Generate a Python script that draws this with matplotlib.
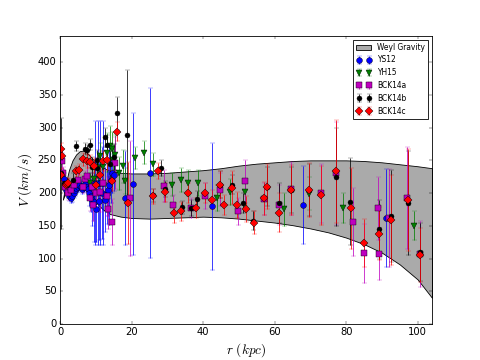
import matplotlib
matplotlib.use("Agg")
import matplotlib.pyplot as plt
import numpy as np

# Weyl gravity band
band_r = [0.8, 1.5, 2.5, 3.5, 4.5, 5.5, 6.5, 7.5, 8.5, 10, 12, 14, 17, 20, 25, 30, 35,
          40, 45, 50, 55, 60, 65, 70, 75, 80, 85, 90, 95, 100, 104]
band_hi = [190, 212, 235, 250, 259, 264, 265, 262, 256, 247, 239, 234, 231, 230, 230, 231, 233,
           235, 238, 242, 245, 247, 249, 250, 250, 250, 249, 247, 244, 241, 238]
band_lo = [190, 200, 210, 216, 218, 217, 213, 205, 197, 186, 175, 168, 164, 162, 161, 162, 163,
           164, 163, 161, 158, 155, 151, 146, 140, 132, 122, 109, 91, 68, 40]

# YS12
ys12_r = [0.6, 1.0, 1.4, 1.8, 2.2, 2.6, 3.0, 3.4, 3.8, 4.2, 4.6, 5.0, 5.4, 5.8, 6.2, 6.6,
          7.0, 7.4, 7.8, 8.2, 8.6, 9.0, 9.4, 9.8, 10.2, 10.7, 11.0, 11.2, 11.8, 12.1, 12.6,
          13.0, 13.4, 13.8, 14.2, 14.6, 15.0, 18.2, 20.3, 25.2, 42.4, 67.8, 91.2]
ys12_v = [228, 222, 212, 205, 200, 196, 193, 195, 200, 204, 208, 210, 212, 210, 207, 210,
          214, 210, 206, 200, 196, 190, 186, 215, 176, 215, 188, 215, 200, 215, 190,
          198, 205, 212, 220, 230, 228, 192, 214, 231, 180, 182, 162]
ys12_e = [8, 8, 8, 8, 8, 8, 8, 8, 8, 8, 8, 8, 8, 8, 8, 8,
          8, 8, 10, 20, 25, 40, 60, 95, 50, 95, 60, 95, 70, 95, 50,
          45, 40, 60, 35, 30, 25, 72, 108, 130, 97, 60, 75]

# YH15
yh15_r = [8.5, 9.5, 10.5, 11.2, 12.0, 13.0, 14.0, 14.5, 14.9, 15.5, 16.5, 17.7, 18.2, 21.0,
          23.5, 26.1, 31.2, 33.8, 35.9, 38.7, 43.8, 47.4, 51.6, 62.7, 69.5, 79.2, 99.0]
yh15_v = [215, 222, 238, 256, 240, 262, 272, 268, 250, 258, 230, 241, 218, 254,
          262, 244, 213, 220, 215, 215, 192, 202, 201, 175, 199, 177, 150]
yh15_e = [15, 20, 25, 20, 25, 30, 30, 25, 25, 30, 25, 25, 20, 17,
          18, 18, 18, 18, 20, 20, 20, 20, 20, 25, 25, 23, 22]

# BCK14a
bck14a_r = [0.5, 0.8, 1.5, 2.3, 3.0, 4.0, 5.0, 6.3, 7.0, 7.5, 8.4, 8.9, 9.3, 10.0, 11.2,
            12.0, 13.0, 13.5, 14.5, 15.4, 19.6, 29.1, 31.7, 36.6, 40.4, 44.6, 49.9, 51.7,
            56.9, 61.1, 64.6, 72.9, 77.1, 81.8, 85.1, 89.0, 89.3, 92.0, 97.0, 100.7]
bck14a_v = [249, 230, 210, 200, 205, 212, 220, 210, 222, 226, 192, 210, 182, 200, 201,
            215, 195, 175, 156, 246, 192, 211, 182, 177, 195, 205, 172, 218,
            191, 182, 207, 200, 230, 156, 108, 177, 107, 162, 192, 107]
bck14a_e = [12, 10, 10, 10, 10, 10, 10, 10, 12, 15, 20, 20, 25, 25, 30,
            30, 30, 30, 35, 40, 88, 25, 15, 15, 20, 25, 20, 33,
            25, 30, 40, 45, 78, 52, 45, 48, 40, 75, 78, 50]

# BCK14b
bck14b_r = [0.3, 1.0, 2.0, 3.5, 4.5, 6.9, 7.6, 8.4, 9.0, 10.3, 10.4, 12.6, 13.2, 14.0,
            15.0, 16.0, 18.6, 26.1, 28.2, 29.4, 34.0, 36.6, 38.2, 44.6, 48.0, 51.3, 54.0,
            58.0, 61.1, 64.6, 69.5, 77.1, 81.1, 89.3, 92.5, 97.4, 100.7]
bck14b_v = [230, 215, 212, 220, 272, 268, 266, 274, 240, 238, 251, 285, 273, 245,
            255, 322, 288, 197, 238, 206, 178, 177, 191, 213, 213, 185, 158,
            210, 185, 205, 205, 224, 187, 145, 165, 185, 110]
bck14b_e = [85, 10, 10, 10, 8, 8, 8, 8, 15, 15, 15, 15, 15, 20,
            20, 25, 100, 10, 12, 12, 10, 12, 12, 20, 15, 15, 15,
            30, 30, 35, 40, 75, 67, 45, 70, 80, 45]

# BCK14c
bck14c_r = [0.3, 0.5, 0.4, 1.6, 2.0, 2.3, 4.5, 5.3, 6.3, 7.5, 8.4, 9.5, 10.1, 11.2, 12.1,
            13.0, 14.5, 16.0, 19.1, 26.1, 27.5, 29.4, 32.0, 33.8, 35.9, 38.0, 40.4, 42.4,
            44.6, 45.9, 48.0, 49.4, 51.9, 54.3, 56.9, 58.0, 61.1, 64.6, 69.5, 72.9, 77.1,
            81.3, 85.0, 89.3, 92.5, 97.4, 100.7]
bck14c_v = [267, 257, 228, 213, 214, 215, 233, 236, 252, 249, 248, 242, 213, 227, 249,
            250, 218, 294, 185, 195, 234, 201, 170, 172, 200, 177, 200, 190,
            213, 182, 208, 182, 176, 155, 192, 210, 170, 205, 205, 197, 233,
            177, 124, 138, 159, 189, 105]
bck14c_e = [10, 10, 10, 8, 8, 8, 8, 8, 10, 10, 10, 12, 12, 15, 15,
            15, 15, 15, 63, 12, 12, 15, 15, 15, 15, 15, 15, 15,
            20, 15, 25, 20, 20, 18, 25, 35, 30, 38, 41, 45, 79,
            62, 37, 40, 69, 78, 41]


def main() -> None:
    plt.style.use("classic")
    fig = plt.figure(figsize=(8, 6), dpi=60, facecolor="white")
    ax = fig.add_subplot(111)

    ax.fill_between(band_r, band_lo, band_hi, facecolor="#aaaaaa",
                    edgecolor="black", linewidth=1, label="Weyl Gravity")

    series = [
        (ys12_r, ys12_v, ys12_e, "o", "blue", 7, "YS12"),
        (yh15_r, yh15_v, yh15_e, "v", "green", 8, "YH15"),
        (bck14a_r, bck14a_v, bck14a_e, "s", "m", 7, "BCK14a"),
        (bck14b_r, bck14b_v, bck14b_e, "o", "black", 6, "BCK14b"),
        (bck14c_r, bck14c_v, bck14c_e, "D", "red", 7, "BCK14c"),
    ]
    for r, v, e, mk, col, ms, lab in series:
        line, caps, bars = ax.errorbar(r, v, yerr=e, fmt=mk, color=col, ecolor=col,
                                       ms=ms, mec="k", mew=0.5, capsize=3,
                                       elinewidth=1.2, label=lab)
        for c in caps:
            c.set_alpha(0.7)
        for b in bars:
            b.set_alpha(0.75)

    ax.set_xlim(0, 104)
    ax.set_ylim(0, 440)
    ax.set_xticks(np.arange(0, 101, 20))
    ax.set_yticks(np.arange(0, 401, 50))
    ax.set_xlabel(r"$r\ (kpc)$", fontsize=16)
    ax.set_ylabel(r"$V\ (km/s)$", fontsize=16)
    ax.legend(loc="upper right", fontsize=9, numpoints=2)

    fig.savefig("out.png", dpi=60, facecolor="white")


if __name__ == "__main__":
    main()
